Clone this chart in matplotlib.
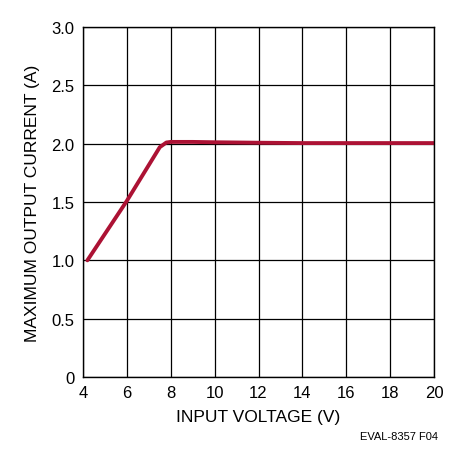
import matplotlib
matplotlib.use("Agg")
import matplotlib.pyplot as plt

vin = [4.2, 6.0, 7.5, 7.8, 8.0, 9.0, 10.0, 12.0, 14.0, 16.0, 18.0, 20.0]
iout = [1.0, 1.51, 1.97, 2.01, 2.015, 2.015, 2.012, 2.008, 2.005, 2.005, 2.005, 2.005]
xticks = [4, 6, 8, 10, 12, 14, 16, 18, 20]
yticks = [0, 0.5, 1.0, 1.5, 2.0, 2.5, 3.0]
ylabels = ["0", "0.5", "1.0", "1.5", "2.0", "2.5", "3.0"]

plt.rcParams['font.family'] = ['Liberation Sans', 'DejaVu Sans']
fig = plt.figure(figsize=(4.55, 4.60), dpi=100)
ax = fig.add_axes([83/455, 1-378/460, (434-83)/455, (378-28)/460])
ax.plot(vin, iout, color="#ac1234", lw=2.8, solid_capstyle="round")
ax.set_xlim(4, 20)
ax.set_ylim(0, 3)
ax.set_xticks(xticks)
ax.set_yticks(yticks)
ax.set_yticklabels(ylabels)
ax.grid(True, color="black", lw=0.9)
for s in ax.spines.values():
    s.set_linewidth(1.0)
ax.tick_params(length=0, labelsize=12, pad=6)
ax.set_xlabel("INPUT VOLTAGE (V)", fontsize=12.5, labelpad=6)
ax.set_ylabel("MAXIMUM OUTPUT CURRENT (A)", fontsize=12.5, labelpad=8)
fig.text(438/455, 1-437/460, "EVAL-8357 F04", fontsize=8, ha="right", va="center")
fig.savefig("out.png", dpi=100)
